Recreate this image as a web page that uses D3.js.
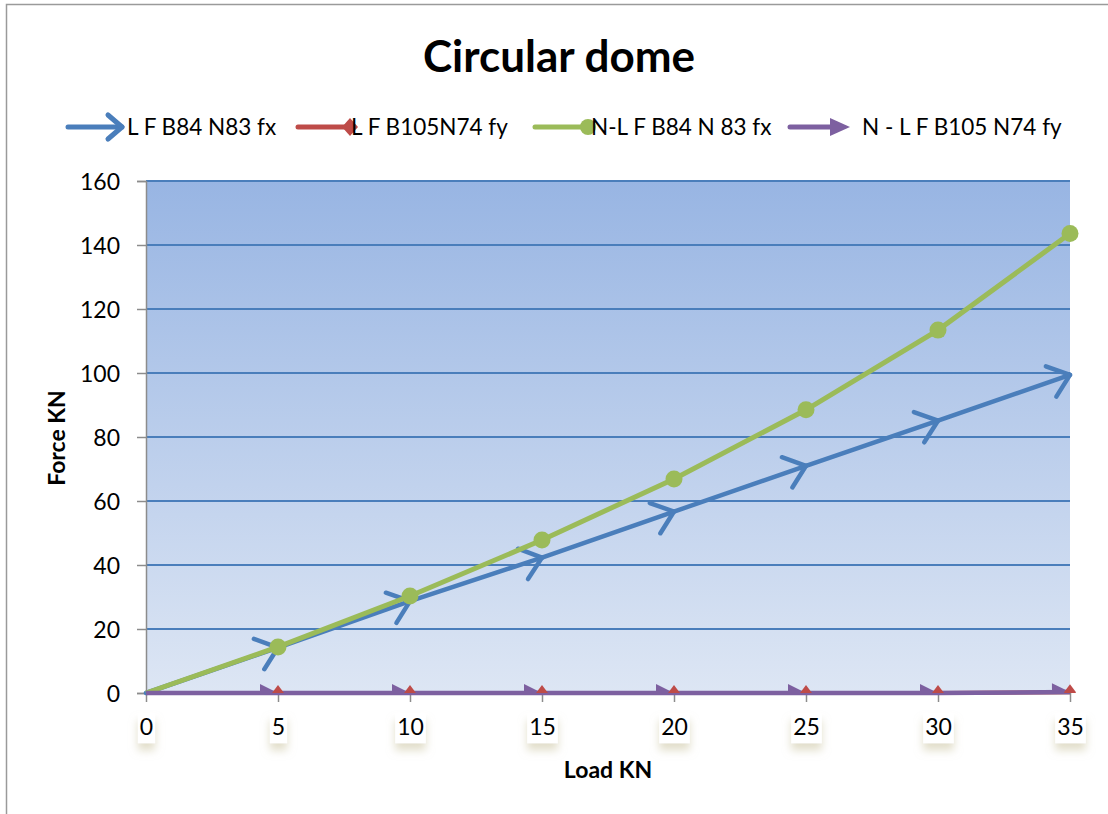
<!DOCTYPE html>
<html>
<head>
<meta charset="utf-8">
<script src="https://cdn.jsdelivr.net/npm/d3@7"></script>
<style>
  html, body { margin: 0; padding: 0; background: #fff; }
  svg { display: block; font-family: Lato, "Open Sans", sans-serif; }
</style>
</head>
<body>
<svg id="chart" width="1108" height="814"></svg>
<script>
// Load steps (KN) along the x axis
const loads = [0, 5, 10, 15, 20, 25, 30, 35];
// Member forces (KN) for each load step
const lfB84N83fx   = [0, 14.2, 28.7, 42.3, 56.7, 71.0, 85.1, 99.4];
const lfB105N74fy  = [0, 0, 0, 0, 0, 0, 0, 0.2];
const nlfB84N83fx  = [0, 14.4, 30.3, 47.8, 66.9, 88.5, 113.4, 143.6];
const nlfB105N74fy = [0, 0, 0, 0, 0, 0, 0, 0.3];
const seriesNames = ["L F B84 N83 fx", "L F B105N74 fy", "N-L F B84 N 83 fx", "N - L F B105 N74 fy"];
const yTicks = [0, 20, 40, 60, 80, 100, 120, 140, 160];

const svg = d3.select("#chart");
const W = 1108, H = 814;
const plot = { left: 146, right: 1070, top: 181, bottom: 693 };

const x = d3.scaleLinear().domain([0, 35]).range([plot.left, plot.right]);
const y = d3.scaleLinear().domain([0, 160]).range([plot.bottom, plot.top]);

const colors = { blue: "#4a7ebb", red: "#be4b48", green: "#9bbb59", purple: "#7d60a0" };

const defs = svg.append("defs");
const grad = defs.append("linearGradient").attr("id", "plotBg")
  .attr("x1", 0).attr("y1", 0).attr("x2", 0).attr("y2", 1);
grad.append("stop").attr("offset", "0%").attr("stop-color", "#98b5e3");
grad.append("stop").attr("offset", "100%").attr("stop-color", "#dde6f4");

const shadow = defs.append("filter").attr("id", "labelShadow")
  .attr("x", "-60%").attr("y", "-60%").attr("width", "220%").attr("height", "260%");
shadow.append("feDropShadow").attr("dx", 0).attr("dy", 7).attr("stdDeviation", 4)
  .attr("flood-color", "#c9c29e").attr("flood-opacity", 0.55);

defs.append("clipPath").attr("id", "plotClip").append("rect")
  .attr("x", plot.left - 20).attr("y", 0)
  .attr("width", plot.right - plot.left + 40).attr("height", plot.bottom);

// Chart frame
svg.append("path")
  .attr("d", `M6.5,${H} V4.5 H${W}`)
  .attr("fill", "none").attr("stroke", "#9a9a9a").attr("stroke-width", 1.5);

// Title
svg.append("text").attr("x", 559).attr("y", 72).attr("text-anchor", "middle")
  .attr("font-size", 44).attr("font-weight", "bold").attr("fill", "#000")
  .text("Circular dome");

// Plot background
svg.append("rect").attr("x", plot.left).attr("y", plot.top)
  .attr("width", plot.right - plot.left).attr("height", plot.bottom - plot.top)
  .attr("fill", "url(#plotBg)");

// Horizontal gridlines
svg.append("g").selectAll("line").data(yTicks.filter(d => d > 0)).join("line")
  .attr("x1", plot.left).attr("x2", plot.right)
  .attr("y1", d => y(d)).attr("y2", d => y(d))
  .attr("stroke", colors.blue).attr("stroke-width", 2);

// Y axis
const yAxis = svg.append("g").attr("transform", `translate(${plot.left},0)`)
  .call(d3.axisLeft(y).tickValues(yTicks).tickSize(9).tickPadding(17));
yAxis.select(".domain").attr("stroke", "#8c8c8c").attr("stroke-width", 1.5);
yAxis.selectAll(".tick line").attr("stroke", "#8c8c8c").attr("stroke-width", 1.5);
yAxis.selectAll(".tick text").attr("font-size", 23).attr("fill", "#000")
  .attr("font-family", "Lato, sans-serif").attr("dy", "0.35em");

// X axis
const xAxis = svg.append("g").attr("transform", `translate(0,${plot.bottom})`)
  .call(d3.axisBottom(x).tickValues(loads).tickSize(9).tickPadding(17).tickSizeOuter(0));
xAxis.select(".domain").attr("stroke", "#8c8c8c").attr("stroke-width", 1.5);
xAxis.selectAll(".tick line").attr("stroke", "#8c8c8c").attr("stroke-width", 1.5);
xAxis.selectAll(".tick text").attr("font-size", 23).attr("fill", "#000")
  .attr("font-family", "Lato, sans-serif").attr("dy", "0.71em");
// white label boxes with a soft shadow
xAxis.selectAll(".tick").each(function () {
  const t = d3.select(this);
  const bb = t.select("text").node().getBBox();
  t.insert("rect", "text")
    .attr("x", bb.x - 2).attr("y", bb.y + 1)
    .attr("width", bb.width + 4).attr("height", bb.height + 2)
    .attr("fill", "#fff").attr("filter", "url(#labelShadow)");
});

// Axis titles
svg.append("text").attr("x", 608).attr("y", 778).attr("text-anchor", "middle")
  .attr("font-size", 23).attr("font-weight", "bold").text("Load KN");
svg.append("text").attr("transform", "translate(65,438) rotate(-90)")
  .attr("text-anchor", "middle").attr("font-size", 23).attr("font-weight", "bold")
  .text("Force KN");

const line = d3.line().x(d => x(d[0])).y(d => y(d[1]));
const pts = vals => loads.map((l, i) => [l, vals[i]]);

// Open chevron arrowhead for the blue series
defs.append("marker").attr("id", "chevron")
  .attr("markerUnits", "userSpaceOnUse").attr("orient", "auto")
  .attr("viewBox", "-26 -22 30 44").attr("markerWidth", 30).attr("markerHeight", 44)
  .attr("refX", 0).attr("refY", 0)
  .append("path").attr("d", "M-20,-16 L0,0 L-20,16")
  .attr("fill", "none").attr("stroke", colors.blue).attr("stroke-width", 4.5)
  .attr("stroke-linecap", "round").attr("stroke-linejoin", "round");

// Red series: line with diamond markers
const redPts = pts(lfB105N74fy);
svg.append("path").attr("d", line(redPts)).attr("fill", "none")
  .attr("stroke", colors.red).attr("stroke-width", 4);

// Blue series: each segment ends with an open arrow
const bluePts = pts(lfB84N83fx);
svg.append("g").selectAll("path").data(d3.pairs(bluePts)).join("path")
  .attr("d", d => line(d)).attr("fill", "none")
  .attr("stroke", colors.blue).attr("stroke-width", 4.5)
  .attr("stroke-linecap", "round")
  .attr("marker-end", "url(#chevron)");

// Green series: line with circle markers
const greenPts = pts(nlfB84N83fx);
svg.append("path").attr("d", line(greenPts)).attr("fill", "none")
  .attr("stroke", colors.green).attr("stroke-width", 5);
svg.append("g").selectAll("circle").data(greenPts.slice(1)).join("circle")
  .attr("cx", d => x(d[0])).attr("cy", d => y(d[1])).attr("r", 8.5)
  .attr("fill", colors.green);

// Purple series: line with filled triangle arrowheads
const purplePts = pts(nlfB105N74fy);
svg.append("path").attr("d", line(purplePts)).attr("fill", "none")
  .attr("stroke", colors.purple).attr("stroke-width", 4.5);
const markG = svg.append("g").attr("clip-path", "url(#plotClip)");
markG.selectAll("path.tri").data(d3.pairs(purplePts)).join("path").attr("class", "tri")
  .attr("d", "M-18,-9 L0,0 L-18,9 Z")
  .attr("transform", d => {
    const a = Math.atan2(y(d[1][1]) - y(d[0][1]), x(d[1][0]) - x(d[0][0])) * 180 / Math.PI;
    return `translate(${x(d[1][0])},${y(d[1][1])}) rotate(${a})`;
  })
  .attr("fill", colors.purple);
markG.selectAll("path.dia").data(redPts.slice(1)).join("path").attr("class", "dia")
  .attr("d", "M0,-8 L6,0 L0,8 L-6,0 Z")
  .attr("transform", d => `translate(${x(d[0])},${y(d[1])})`)
  .attr("fill", colors.red);

// Legend
const legendY = 127;
const legend = svg.append("g").attr("font-size", 22.5);
const legendItems = [
  { name: seriesNames[0], x0: 68, x1: 122, tx: 127, kind: "chevron", color: colors.blue },
  { name: seriesNames[1], x0: 298, x1: 350, tx: 351, kind: "diamond", color: colors.red },
  { name: seriesNames[2], x0: 535, x1: 588, tx: 591, kind: "circle", color: colors.green },
  { name: seriesNames[3], x0: 790, x1: 846, tx: 862, kind: "triangle", color: colors.purple }
];
legendItems.forEach(it => {
  const g = legend.append("g");
  g.append("line").attr("x1", it.x0).attr("x2", it.kind === "triangle" ? it.x1 - 10 : it.x1)
    .attr("y1", legendY).attr("y2", legendY)
    .attr("stroke", it.color).attr("stroke-width", 5).attr("stroke-linecap", "round");
  if (it.kind === "chevron") {
    g.append("path").attr("d", `M${it.x1 - 14},${legendY - 12} L${it.x1},${legendY} L${it.x1 - 14},${legendY + 12}`)
      .attr("fill", "none").attr("stroke", it.color).attr("stroke-width", 5)
      .attr("stroke-linecap", "round").attr("stroke-linejoin", "round");
  } else if (it.kind === "diamond") {
    g.append("path").attr("d", `M${it.x1},${legendY - 9} L${it.x1 + 8},${legendY} L${it.x1},${legendY + 9} L${it.x1 - 8},${legendY} Z`)
      .attr("fill", it.color);
  } else if (it.kind === "circle") {
    g.append("circle").attr("cx", it.x1).attr("cy", legendY).attr("r", 8).attr("fill", it.color);
  } else {
    g.append("path").attr("d", `M${it.x1 - 16},${legendY - 9} L${it.x1 + 4},${legendY} L${it.x1 - 16},${legendY + 9} Z`)
      .attr("fill", it.color);
  }
  g.append("text").attr("x", it.tx).attr("y", legendY).attr("dy", "0.35em").text(it.name);
});
</script>
</body>
</html>
